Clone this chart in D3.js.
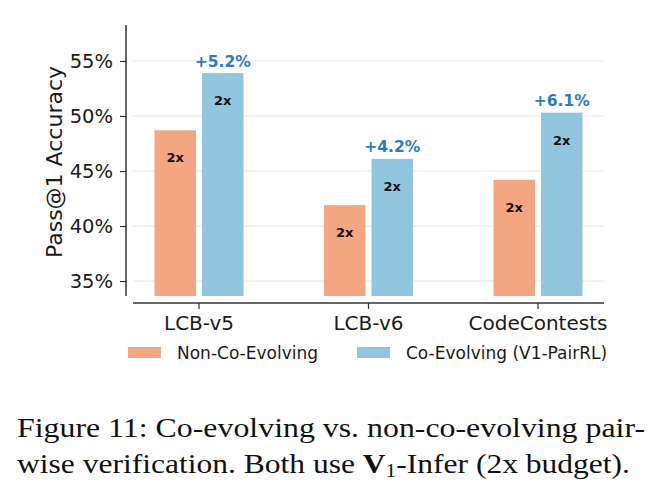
<!DOCTYPE html>
<html>
<head>
<meta charset="utf-8">
<script src="https://cdn.jsdelivr.net/npm/d3@7"></script>
<style>
  body { margin: 0; background: #fff; }
  svg { display: block; }
</style>
</head>
<body>
<div id="chart"></div>
<script>
// Data
const categories = ["LCB-v5", "LCB-v6", "CodeContests"];
const seriesNames = ["Non-Co-Evolving", "Co-Evolving (V1-PairRL)"];
const nonCoEvolving = [48.7, 41.9, 44.2];
const coEvolving = [53.9, 46.1, 50.3];
const gainLabels = ["+5.2%", "+4.2%", "+6.1%"];
const budgetLabel = "2x";
const yTicks = [35, 40, 45, 50, 55];

const W = 656, H = 497;
const plot = { left: 133, right: 604, top: 25, bottom: 296 };
const colors = ["#f4a582", "#92c5de"];
const font = "'DejaVu Sans', sans-serif";

const svg = d3.select("#chart").append("svg")
  .attr("width", W).attr("height", H);

const x0 = d3.scaleBand()
  .domain(categories)
  .range([plot.left, plot.right])
  .paddingInner(0.475)
  .paddingOuter(0.127);

const x1 = d3.scaleBand()
  .domain(seriesNames)
  .range([0, x0.bandwidth()])
  .paddingInner(0.126);

const y = d3.scaleLinear()
  .domain([33.64, 58.27])
  .range([plot.bottom, plot.top]);

// gridlines
svg.append("g")
  .selectAll("line")
  .data(yTicks)
  .join("line")
  .attr("x1", plot.left).attr("x2", plot.right)
  .attr("y1", d => y(d)).attr("y2", d => y(d))
  .attr("stroke", "#e8e8e8")
  .attr("stroke-width", 1.2);

// bars
const rows = categories.map((c, i) => ({ cat: c, vals: [nonCoEvolving[i], coEvolving[i]], gain: gainLabels[i] }));

const groups = svg.append("g").selectAll("g")
  .data(rows)
  .join("g")
  .attr("transform", d => `translate(${x0(d.cat)},0)`);

groups.selectAll("rect")
  .data(d => d.vals.map((v, j) => ({ v, s: seriesNames[j], j })))
  .join("rect")
  .attr("x", d => x1(d.s))
  .attr("width", x1.bandwidth())
  .attr("y", d => y(d.v))
  .attr("height", d => y.range()[0] - y(d.v))
  .attr("fill", d => colors[d.j]);

groups.selectAll("text.budget")
  .data(d => d.vals.map((v, j) => ({ v, s: seriesNames[j] })))
  .join("text")
  .attr("class", "budget")
  .attr("x", d => x1(d.s) + x1.bandwidth() / 2)
  .attr("y", d => y(d.v - 2.5))
  .attr("dy", "0.35em")
  .attr("text-anchor", "middle")
  .attr("font-family", font)
  .attr("font-weight", "bold")
  .attr("font-size", 13)
  .attr("fill", "#111")
  .text(budgetLabel);

groups.append("text")
  .attr("x", x1(seriesNames[1]) + x1.bandwidth() / 2)
  .attr("y", d => y(d.vals[1]) - 12)
  .attr("dy", "0.35em")
  .attr("text-anchor", "middle")
  .attr("font-family", font)
  .attr("font-weight", "bold")
  .attr("font-size", 15.5)
  .attr("fill", "#2b7bc0")
  .text(d => d.gain);

// y axis (offset spine)
const yAxis = svg.append("g")
  .attr("transform", `translate(${plot.left - 7},0)`)
  .call(d3.axisLeft(y).tickValues(yTicks).tickFormat(d => d + "%").tickSize(6).tickPadding(7));
yAxis.select(".domain").attr("d", `M0,${plot.top}V${plot.bottom}`);

// x axis (offset spine)
const xAxis = svg.append("g")
  .attr("transform", `translate(0,${plot.bottom + 7})`)
  .call(d3.axisBottom(x0).tickSize(6).tickPadding(7));
xAxis.select(".domain").attr("d", `M${plot.left},0H${plot.right}`);

svg.selectAll(".domain").attr("stroke", "#333").attr("stroke-width", 1.5);
svg.selectAll(".tick line").attr("stroke", "#333").attr("stroke-width", 1.2);
yAxis.selectAll("text").attr("font-family", font).attr("font-size", 19.5).attr("fill", "#1a1a1a");
xAxis.selectAll("text").attr("font-family", font).attr("font-size", 20).attr("fill", "#1a1a1a");

// y title
svg.append("text")
  .attr("transform", `translate(62,162) rotate(-90)`)
  .attr("text-anchor", "middle")
  .attr("font-family", font)
  .attr("font-size", 22)
  .attr("fill", "#1a1a1a")
  .text("Pass@1 Accuracy");

// legend
const legendX = [128, 357];
const legend = svg.append("g").selectAll("g")
  .data(seriesNames)
  .join("g")
  .attr("transform", (d, i) => `translate(${legendX[i]},347)`);
legend.append("rect")
  .attr("width", 33).attr("height", 11)
  .attr("fill", (d, i) => colors[i]);
legend.append("text")
  .attr("x", 49).attr("y", 12)
  .attr("font-family", font)
  .attr("font-size", 17)
  .attr("fill", "#1a1a1a")
  .text(d => d);

// caption
const caption = svg.append("g")
  .attr("font-family", "'Liberation Serif', 'DejaVu Serif', serif")
  .attr("font-size", 28)
  .attr("fill", "#111");

caption.append("text")
  .attr("x", 17).attr("y", 437)
  .attr("textLength", 628)
  .attr("lengthAdjust", "spacingAndGlyphs")
  .text("Figure 11: Co-evolving vs. non-co-evolving pair-");

const line2 = caption.append("text")
  .attr("x", 17).attr("y", 473)
  .attr("textLength", 613)
  .attr("lengthAdjust", "spacingAndGlyphs");
line2.append("tspan").text("wise verification.  Both use ");
line2.append("tspan").attr("font-weight", "bold").text("V");
line2.append("tspan").attr("font-size", 19).attr("dy", 4).text("1");
line2.append("tspan").attr("dy", -4).text("-Infer (2x budget).");
</script>
</body>
</html>
